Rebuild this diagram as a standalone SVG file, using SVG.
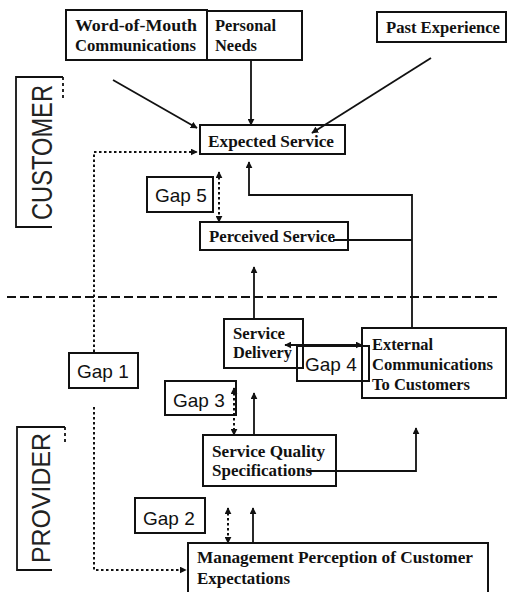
<svg xmlns="http://www.w3.org/2000/svg" width="507" height="592" viewBox="0 0 507 592">
<style>
.box{fill:#fff;stroke:#111;stroke-width:2}
.t{font-family:"Liberation Serif","Times New Roman",serif;font-weight:bold;font-size:16px;fill:#111}
.g{font-family:"Liberation Sans",Arial,sans-serif;font-size:19px;fill:#111}
.side{font-family:"Liberation Sans",Arial,sans-serif;fill:#222}
.ln{fill:none;stroke:#111;stroke-width:1.8}
.dot{fill:none;stroke:#111;stroke-width:2;stroke-dasharray:2.5 2.5}
.dash{fill:none;stroke:#111;stroke-width:2;stroke-dasharray:9 4}
</style>
<defs>
<marker id="ah" viewBox="0 0 10 10" refX="9" refY="5" markerWidth="7" markerHeight="7" markerUnits="userSpaceOnUse" orient="auto-start-reverse">
<path d="M0,0 L10,5 L0,10 z" fill="#111"/>
</marker>
</defs>
<rect width="507" height="592" fill="#fff"/>

<g id="customer-label">
<path class="ln" d="M63,77 H16 V227 H52"/>
<path class="ln" d="M63,77 V100" stroke-dasharray="3 3"/>
<text class="side" font-size="29" transform="translate(52,220) rotate(-90)" textLength="135" lengthAdjust="spacingAndGlyphs">CUSTOMER</text>
</g>
<g id="provider-label">
<path class="ln" d="M65,427 H17 V570 H52"/>
<path class="ln" d="M65,427 V445" stroke-dasharray="3 3"/>
<text class="side" font-size="26" transform="translate(50,563) rotate(-90)" textLength="130" lengthAdjust="spacingAndGlyphs">PROVIDER</text>
</g>

<g id="word-of-mouth">
<rect class="box" x="66" y="10" width="141" height="50"/>
<text class="t" x="75" y="31" textLength="122" lengthAdjust="spacingAndGlyphs">Word-of-Mouth</text>
<text class="t" x="75" y="51" textLength="121" lengthAdjust="spacingAndGlyphs">Communications</text>
</g>
<g id="personal-needs">
<rect class="box" x="207" y="11" width="95" height="49"/>
<text class="t" x="215" y="31" textLength="61" lengthAdjust="spacingAndGlyphs">Personal</text>
<text class="t" x="215" y="51" textLength="42" lengthAdjust="spacingAndGlyphs">Needs</text>
</g>
<g id="past-experience">
<rect class="box" x="377" y="12" width="129" height="30"/>
<text class="t" x="386" y="33" textLength="114" lengthAdjust="spacingAndGlyphs">Past Experience</text>
</g>
<g id="expected-service">
<rect class="box" x="200" y="125" width="145" height="29"/>
<text class="t" x="208" y="147" textLength="126" lengthAdjust="spacingAndGlyphs">Expected Service</text>
</g>
<g id="gap5">
<rect class="box" x="147" y="177" width="66" height="35"/>
<text class="g" x="155" y="202">Gap 5</text>
</g>
<g id="perceived-service">
<rect class="box" x="200" y="222" width="148" height="28"/>
<text class="t" x="209" y="242" textLength="126" lengthAdjust="spacingAndGlyphs">Perceived Service</text>
</g>
<g id="service-delivery">
<rect class="box" x="224" y="319" width="79" height="49"/>
<text class="t" x="233" y="339" textLength="52" lengthAdjust="spacingAndGlyphs">Service</text>
<text class="t" x="233" y="358" textLength="59" lengthAdjust="spacingAndGlyphs">Delivery</text>
</g>
<g id="external-communications">
<rect class="box" x="362" y="328" width="144" height="70"/>
<text class="t" x="372" y="350" textLength="61" lengthAdjust="spacingAndGlyphs">External</text>
<text class="t" x="372" y="370" textLength="121" lengthAdjust="spacingAndGlyphs">Communications</text>
<text class="t" x="372" y="390" textLength="98" lengthAdjust="spacingAndGlyphs">To Customers</text>
</g>
<g id="gap4">
<rect x="297" y="346" width="72" height="35" fill="none" stroke="#111" stroke-width="2"/>
<text class="g" x="305" y="371" font-size="20">Gap 4</text>
</g>
<g id="gap1">
<rect class="box" x="69" y="353" width="69" height="35"/>
<text class="g" x="77" y="378">Gap 1</text>
</g>
<g id="gap3">
<rect class="box" x="165" y="381" width="71" height="34"/>
<text class="g" x="173" y="407">Gap 3</text>
</g>
<g id="service-quality-specifications">
<rect class="box" x="203" y="435" width="133" height="51"/>
<text class="t" x="212" y="457" textLength="113" lengthAdjust="spacingAndGlyphs">Service Quality</text>
<text class="t" x="212" y="476" textLength="100" lengthAdjust="spacingAndGlyphs">Specifications</text>
</g>
<g id="gap2">
<rect class="box" x="135" y="498" width="70" height="35"/>
<text class="g" x="143" y="525">Gap 2</text>
</g>
<g id="management-perception">
<rect class="box" x="188" y="543" width="300" height="60"/>
<text class="t" x="197" y="563" textLength="276" lengthAdjust="spacingAndGlyphs">Management Perception of Customer</text>
<text class="t" x="197" y="584" textLength="93" lengthAdjust="spacingAndGlyphs">Expectations</text>
</g>

<g id="connectors">
<line class="dash" x1="7" y1="297" x2="497" y2="297"/>
<line class="ln" x1="113" y1="80" x2="197" y2="128" marker-end="url(#ah)"/>
<line class="ln" x1="251" y1="60" x2="251" y2="125" marker-end="url(#ah)"/>
<line class="ln" x1="431" y1="58" x2="312" y2="133" marker-end="url(#ah)"/>
<polyline class="ln" points="412,328 412,195 249,195 249,162" marker-end="url(#ah)"/>
<line class="ln" x1="333" y1="240" x2="412" y2="240"/>
<line class="dot" x1="219" y1="172" x2="219" y2="222" marker-start="url(#ah)" marker-end="url(#ah)"/>
<polyline class="dot" points="94,352 94,152 197,152" marker-end="url(#ah)"/>
<polyline class="dot" points="94,407 94,570 186,570" marker-end="url(#ah)"/>
<line class="ln" x1="254" y1="319" x2="254" y2="267" marker-end="url(#ah)"/>
<line class="ln" x1="285" y1="345" x2="362" y2="345" marker-start="url(#ah)" marker-end="url(#ah)"/>
<line class="ln" x1="254" y1="435" x2="254" y2="393" marker-end="url(#ah)"/>
<line class="dot" x1="234" y1="388" x2="234" y2="435" marker-start="url(#ah)" marker-end="url(#ah)"/>
<polyline class="ln" points="308,471 416,471 416,428" marker-end="url(#ah)"/>
<line class="dot" x1="228" y1="508" x2="228" y2="543" marker-start="url(#ah)" marker-end="url(#ah)"/>
<line class="ln" x1="253" y1="543" x2="253" y2="508" marker-end="url(#ah)"/>
</g>
</svg>
